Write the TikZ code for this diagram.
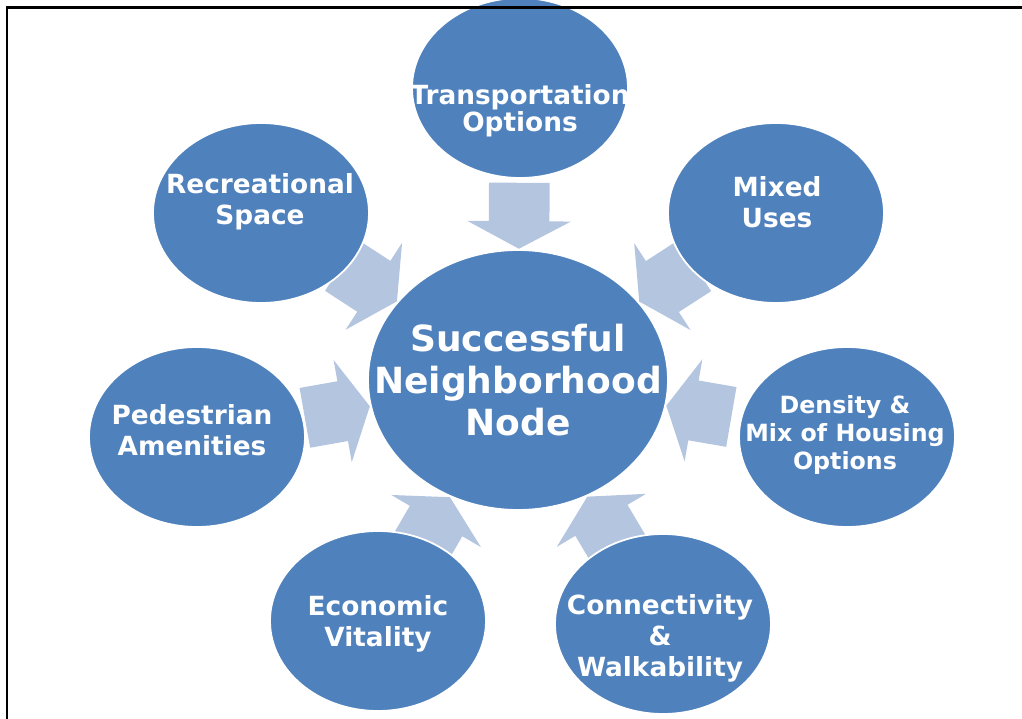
\documentclass[tikz,border=0pt]{standalone}
\usepackage{fontspec}
\setmainfont{DejaVu Sans}
\usepackage{xcolor}
\usetikzlibrary{shapes.geometric,shapes.arrows,backgrounds}
\definecolor{NodeBlue}{HTML}{4F81BD}
\definecolor{ArrBlue}{HTML}{B4C5E0}

\begin{document}
\begin{tikzpicture}[x=0.02cm, y=-0.02cm,
  hub/.style={ellipse, fill=NodeBlue, draw=white, line width=1pt,
              minimum width=6.0cm, minimum height=5.2cm},
  bubble/.style={ellipse, fill=NodeBlue, draw=white, line width=1pt,
                 minimum width=4.32cm, minimum height=3.6cm},
  lbl/.style={text=white, align=center, inner sep=0pt,
              font=\bfseries\fontsize{15}{17.6}\selectfont},
  feed/.style={single arrow, fill=ArrBlue, draw=none, inner xsep=0pt,
               inner ysep=0.6cm, minimum height=1.32cm, minimum width=0pt,
               single arrow head extend=0.43cm, single arrow tip angle=124}
]
\useasboundingbox (0,0) rectangle (1022,719);

% centre
\node[hub] (ctr) at (518,380) {};
\node[lbl, font=\bfseries\fontsize{20.5}{24}\selectfont] (ctr-t) at (518,380)
  {Successful\\Neighborhood\\Node};

% factors round the centre
\node[bubble] (trans) at (520,88) {};
\node[lbl, font=\bfseries\fontsize{15}{15.5}\selectfont] (trans-t) at (520,111)
  {Transportation\\Options};
\node[bubble] (rec) at (261,213) {};
\node[lbl] (rec-t) at (260,202) {Recreational\\Space};
\node[bubble] (mix) at (776,213) {};
\node[lbl] (mix-t) at (777,202) {Mixed\\Uses};
\node[bubble] (ped) at (197,437) {};
\node[lbl] (ped-t) at (192,430) {Pedestrian\\Amenities};
\node[bubble] (dens) at (847,437) {};
\node[lbl, font=\bfseries\fontsize{13.5}{16}\selectfont] (dens-t) at (845,435)
  {Density \&\\Mix of Housing\\Options};
\node[bubble] (econ) at (378,621) {};
\node[lbl] (econ-t) at (378,624) {Economic\\Vitality};
\node[bubble] (conn) at (663,624) {};
\node[lbl] (conn-t) at (660,638) {Connectivity\\\&\\Walkability};

% block arrows into the centre
\begin{scope}[on background layer]
\foreach \src in {trans,rec,mix,ped,dens,econ,conn}
  \path (\src) -- (ctr) node[feed, pos=1, sloped, allow upside down, anchor=tip] {};
\end{scope}

% frame
\coordinate (fr-bl) at (7,725);
\coordinate (fr-tl) at (7,7.5);
\coordinate (fr-tr) at (1025,7.5);
\draw[line width=0.05cm] (fr-bl) -- (fr-tl) -- (fr-tr);
\end{tikzpicture}
\end{document}
